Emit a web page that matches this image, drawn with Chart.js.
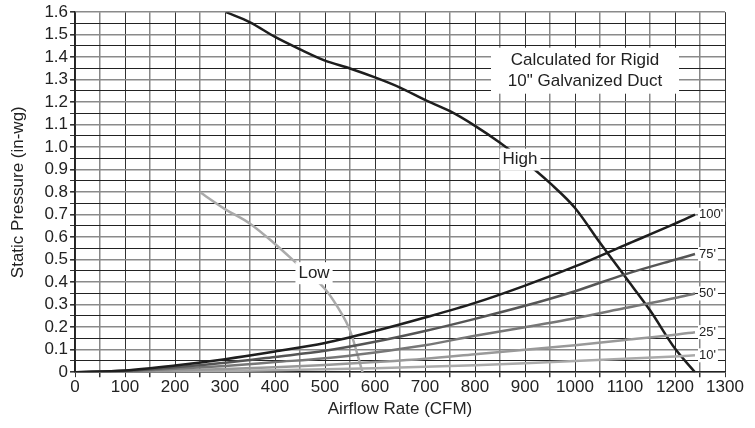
<!DOCTYPE html>
<html lang="en">
<head>
    <meta charset="UTF-8">
    <title>Static Pressure vs Airflow</title>
    <script src="https://cdn.jsdelivr.net/npm/chart.js"></script>
    <style>
        body { margin: 0; background: #fff; }
        #wrap { width: 755px; height: 428px; }
    </style>
</head>
<body>
    <div id="wrap"><canvas id="pressureChart" width="755" height="428"></canvas></div>
    <script>
        // fan curves
        const highCfm = [302, 350, 400, 450, 500, 550, 600, 650, 700, 750, 800, 850, 900, 950, 1000, 1050, 1100, 1150, 1200, 1240];
        const highPsi = [1.60, 1.555, 1.49, 1.435, 1.385, 1.35, 1.31, 1.265, 1.21, 1.16, 1.095, 1.02, 0.935, 0.84, 0.73, 0.575, 0.425, 0.275, 0.105, 0.0];
        const lowCfm = [250, 300, 350, 400, 450, 500, 525, 550, 575];
        const lowPsi = [0.80, 0.725, 0.66, 0.57, 0.47, 0.37, 0.29, 0.185, 0.0];

        // duct curves (length labels)
        const ductCfm = [0, 100, 200, 300, 400, 500, 600, 700, 800, 900, 1000, 1100, 1200, 1240];
        const duct100 = [0, 0.008, 0.03, 0.058, 0.092, 0.13, 0.183, 0.243, 0.308, 0.385, 0.47, 0.565, 0.66, 0.70];
        const duct75 = [0, 0.006, 0.022, 0.042, 0.068, 0.095, 0.135, 0.183, 0.237, 0.295, 0.36, 0.435, 0.50, 0.525];
        const duct50 = [0, 0.004, 0.015, 0.028, 0.045, 0.062, 0.088, 0.12, 0.162, 0.20, 0.24, 0.285, 0.33, 0.35];
        const duct25 = [0, 0.002, 0.008, 0.014, 0.022, 0.032, 0.045, 0.06, 0.08, 0.10, 0.12, 0.143, 0.166, 0.178];
        const duct10 = [0, 0.001, 0.003, 0.006, 0.009, 0.013, 0.018, 0.024, 0.031, 0.04, 0.05, 0.06, 0.07, 0.075];
        const ductLabels = ["100'", "75'", "50'", "25'", "10'"];
        const ductColors = ['#1e1e1e', '#555555', '#777777', '#999999', '#aaaaaa'];

        function pts(xs, ys) {
            return xs.map((x, i) => ({ x: x, y: ys[i] }));
        }

        const ductSets = [duct100, duct75, duct50, duct25, duct10].map((d, i) => ({
            label: ductLabels[i],
            data: pts(ductCfm, d),
            borderColor: ductColors[i],
            borderWidth: 2.5,
            pointRadius: 0,
            cubicInterpolationMode: 'monotone',
            endLabel: ductLabels[i]
        }));

        const notes = [
            { text: 'High', x: 890, y: 0.945 },
            { text: 'Low', x: 478, y: 0.44 }
        ];

        const labelPlugin = {
            id: 'labels',
            afterDatasetsDraw(chart) {
                const ctx = chart.ctx;
                const xs = chart.scales.x, ys = chart.scales.y;
                ctx.save();
                ctx.textBaseline = 'middle';
                // duct end labels
                ctx.font = '13px "Liberation Sans", Arial, sans-serif';
                chart.data.datasets.forEach(ds => {
                    if (!ds.endLabel) return;
                    const last = ds.data[ds.data.length - 1];
                    const px = xs.getPixelForValue(last.x) + 3;
                    const py = ys.getPixelForValue(last.y);
                    const w = ctx.measureText(ds.endLabel).width;
                    ctx.fillStyle = '#fff';
                    ctx.fillRect(px, py - 7, w + 3, 14);
                    ctx.fillStyle = '#222';
                    ctx.textAlign = 'left';
                    ctx.fillText(ds.endLabel, px + 1, py);
                });
                // curve names
                ctx.font = '17px "Liberation Sans", Arial, sans-serif';
                ctx.textAlign = 'center';
                notes.forEach(n => {
                    const px = xs.getPixelForValue(n.x);
                    const py = ys.getPixelForValue(n.y);
                    const w = ctx.measureText(n.text).width;
                    ctx.fillStyle = '#fff';
                    ctx.fillRect(px - w / 2 - 3, py - 11, w + 6, 22);
                    ctx.fillStyle = '#222';
                    ctx.fillText(n.text, px, py);
                });
                // info box
                const bx = xs.getPixelForValue(1020), by = ys.getPixelForValue(1.34);
                ctx.fillStyle = '#fff';
                ctx.fillRect(bx - 94, by - 23, 188, 46);
                ctx.fillStyle = '#222';
                ctx.fillText('Calculated for Rigid', bx, by - 10);
                ctx.fillText('10" Galvanized Duct', bx, by + 11);
                ctx.restore();
            }
        };

        const fontFamily = '"Liberation Sans", Arial, sans-serif';

        new Chart(document.getElementById('pressureChart').getContext('2d'), {
            type: 'line',
            data: {
                datasets: [
                    ...ductSets,
                    { label: 'High', data: pts(highCfm, highPsi), borderColor: '#1e1e1e', borderWidth: 2.5, pointRadius: 0, cubicInterpolationMode: 'monotone' },
                    { label: 'Low', data: pts(lowCfm, lowPsi), borderColor: '#aaaaaa', borderWidth: 2.5, pointRadius: 0, cubicInterpolationMode: 'monotone' }
                ]
            },
            options: {
                responsive: false,
                animation: false,
                layout: { padding: { top: 9, right: 30, left: 4, bottom: 4 } },
                plugins: {
                    legend: { display: false },
                    tooltip: { enabled: false }
                },
                scales: {
                    x: {
                        type: 'linear',
                        min: 0,
                        max: 1300,
                        grid: {
                            color: ctx => (ctx.tick.value % 100 === 0 ? '#333' : '#888'),
                            lineWidth: ctx => (ctx.tick.value % 100 === 0 ? 1 : 1.5),
                            tickLength: 5,
                            tickColor: '#333'
                        },
                        border: { color: '#222', width: 1.5 },
                        ticks: {
                            stepSize: 50,
                            autoSkip: false,
                            maxRotation: 0,
                            color: '#222',
                            font: { family: fontFamily, size: 17 },
                            padding: 0,
                            callback: v => (v % 100 === 0 ? v : '')
                        },
                        title: {
                            display: true,
                            text: 'Airflow Rate (CFM)',
                            color: '#222',
                            font: { family: fontFamily, size: 17 },
                            padding: { top: 2 }
                        }
                    },
                    y: {
                        min: 0,
                        max: 1.6,
                        grid: {
                            color: ctx => (Math.round(ctx.tick.value * 100) % 10 === 0 ? '#8a8a8a' : '#222'),
                            lineWidth: ctx => (Math.round(ctx.tick.value * 100) % 10 === 0 ? 1.6 : 1),
                            tickLength: 5,
                            tickColor: '#333'
                        },
                        border: { color: '#222', width: 1.5 },
                        ticks: {
                            stepSize: 0.05,
                            autoSkip: false,
                            color: '#222',
                            font: { family: fontFamily, size: 17 },
                            padding: 2,
                            callback: v => {
                                const c = Math.round(v * 100);
                                if (c % 10 !== 0) return '';
                                return c === 0 ? '0' : (c / 100).toFixed(1);
                            }
                        },
                        title: {
                            display: true,
                            text: 'Static Pressure (in-wg)',
                            color: '#222',
                            font: { family: fontFamily, size: 17 },
                            padding: { bottom: 14 }
                        }
                    }
                }
            },
            plugins: [labelPlugin]
        });
    </script>
</body>
</html>
